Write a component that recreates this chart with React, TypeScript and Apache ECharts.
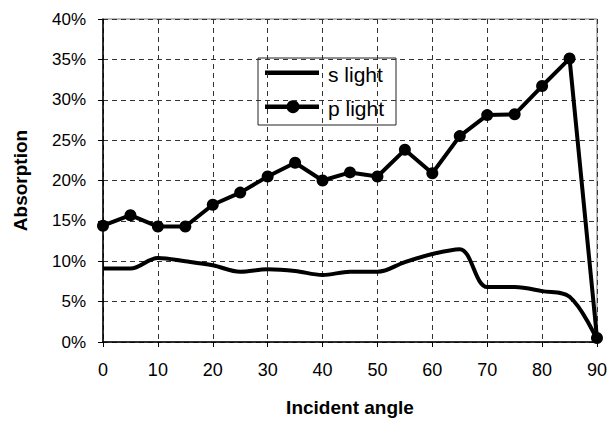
import React, { useEffect, useRef } from "react";
import * as echarts from "echarts";

const angles = [0, 5, 10, 15, 20, 25, 30, 35, 40, 45, 50, 55, 60, 65, 70, 75, 80, 85, 90];
const sLight = [9.1, 9.1, 10.4, 10.0, 9.5, 8.7, 9.0, 8.8, 8.3, 8.7, 8.7, 9.9, 10.9, 11.5, 6.8, 6.8, 6.3, 5.6, 0.3];
const pLight = [14.4, 15.7, 14.3, 14.3, 17.0, 18.5, 20.5, 22.2, 20.0, 21.0, 20.5, 23.8, 20.9, 25.5, 28.1, 28.2, 31.7, 35.1, 0.5];
const yTicks = [0, 5, 10, 15, 20, 25, 30, 35, 40];
const xTicks = [0, 10, 20, 30, 40, 50, 60, 70, 80, 90];
const seriesNames = ["s light", "p light"];

export default function App() {
  const ref = useRef<HTMLDivElement>(null);
  useEffect(() => {
    if (!ref.current) return;
    const chart = echarts.init(ref.current, undefined, { renderer: "svg" });
    const font = "Arial, 'Liberation Sans', sans-serif";
    chart.setOption({
      animation: false,
      backgroundColor: "#fff",
      textStyle: { fontFamily: font },
      grid: {
        left: 103,
        right: 13,
        top: 19,
        bottom: 79,
        show: true,
        borderColor: "#777",
        borderWidth: 1,
      },
      graphic: [
        {
          type: "group",
          z: 100,
          children: [
            {
              type: "rect",
              shape: { x: 258, y: 58, width: 138, height: 67 },
              style: { fill: "#fff", stroke: "#222", lineWidth: 1 },
            },
            {
              type: "rect",
              shape: { x: 265, y: 70.5, width: 54, height: 4.5 },
              style: { fill: "#000" },
            },
            {
              type: "rect",
              shape: { x: 265, y: 104.5, width: 54, height: 4.5 },
              style: { fill: "#000" },
            },
            {
              type: "circle",
              shape: { cx: 293, cy: 106.7, r: 6.5 },
              style: { fill: "#000" },
            },
            {
              type: "text",
              x: 328,
              y: 74,
              style: { text: seriesNames[0], fill: "#000", font: "21px Arial, 'Liberation Sans', sans-serif", verticalAlign: "middle" },
            },
            {
              type: "text",
              x: 328,
              y: 108,
              style: { text: seriesNames[1], fill: "#000", font: "21px Arial, 'Liberation Sans', sans-serif", verticalAlign: "middle" },
            },
          ],
        },
      ],
      xAxis: {
        type: "value",
        min: xTicks[0],
        max: xTicks[xTicks.length - 1],
        interval: 10,
        name: "Incident angle",
        nameLocation: "middle",
        nameGap: 56,
        nameTextStyle: { fontSize: 19, fontWeight: "bold", color: "#000", fontFamily: font },
        axisLine: { show: true, lineStyle: { color: "#000", width: 1.5 } },
        axisTick: { show: true, inside: false, length: 5, lineStyle: { color: "#000" } },
        axisLabel: { fontSize: 18, color: "#000", margin: 19, fontFamily: font },
        splitLine: { show: true, lineStyle: { type: [5, 4], color: "#333", width: 1 } },
      },
      yAxis: {
        type: "value",
        min: yTicks[0],
        max: yTicks[yTicks.length - 1],
        interval: 5,
        name: "Absorption",
        nameLocation: "middle",
        nameGap: 73,
        nameTextStyle: { fontSize: 19, fontWeight: "bold", color: "#000", fontFamily: font },
        axisLine: { show: true, lineStyle: { color: "#000", width: 1.5 } },
        axisTick: { show: true, length: 5, lineStyle: { color: "#000" } },
        axisLabel: { fontSize: 17, color: "#000", margin: 17, formatter: "{value}%", fontFamily: font },
        splitLine: { show: true, lineStyle: { type: [5, 4], color: "#333", width: 1 } },
      },
      series: [
        {
          name: seriesNames[0],
          type: "line",
          smooth: 0.35,
          symbol: "none",
          lineStyle: { color: "#000", width: 4 },
          itemStyle: { color: "#000" },
          data: angles.map((a, i) => [a, sLight[i]]),
        },
        {
          name: seriesNames[1],
          type: "line",
          symbol: "circle",
          symbolSize: 12,
          lineStyle: { color: "#000", width: 4 },
          itemStyle: { color: "#000" },
          data: angles.map((a, i) => [a, pLight[i]]),
        },
      ],
    });
    return () => chart.dispose();
  }, []);
  return <div ref={ref} style={{ position: "fixed", left: 0, top: 0, width: 610, height: 422 }} />;
}
